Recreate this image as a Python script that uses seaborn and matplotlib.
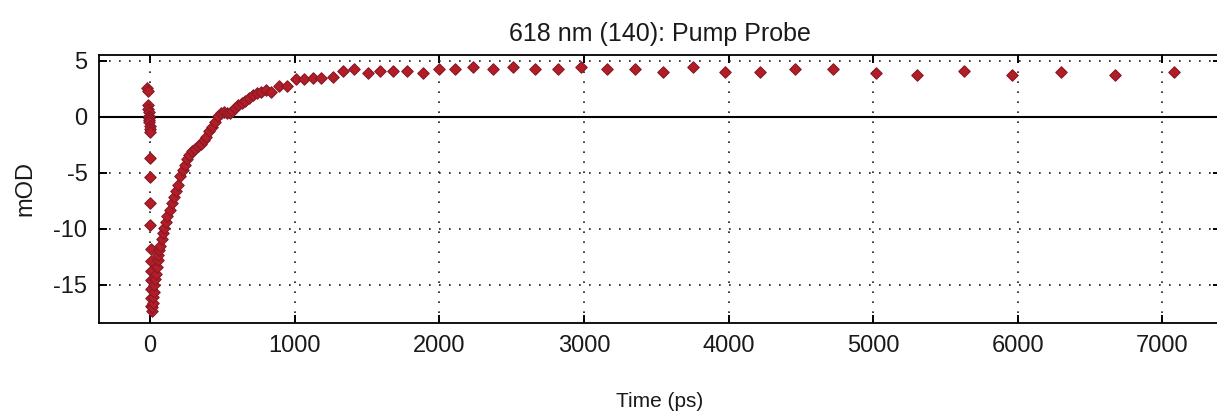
import matplotlib
matplotlib.use("Agg")
import matplotlib.pyplot as plt
import seaborn as sns
import pandas as pd

# ---- data ----
time_ps = [
    -20, -17, -14, -12, -10, -8, -6, -5, -4, -3, -2, -1,
    0, 1, 2, 3, 4, 5, 6, 7, 8, 9, 10,
    12, 15, 18, 21, 25, 30, 35, 40, 46, 52, 58, 64, 70, 80, 90, 100,
    110, 120, 135, 150, 165, 180, 195, 210, 225, 240, 255, 270, 290,
    310, 330, 350, 370, 390, 410, 430, 450, 470, 490, 510, 530, 550,
    570, 590, 610, 635, 660, 685, 710, 740, 770, 800, 840, 890, 945,
    1010, 1065, 1126, 1181, 1264, 1333, 1412, 1504, 1587, 1677, 1776,
    1891, 1998, 2111, 2233, 2371, 2510, 2664, 2819, 2980, 3160, 3352,
    3548, 3753, 3979, 4217, 4457, 4724, 5017, 5306, 5628, 5958, 6302,
    6673, 7077,
]
signal_mod = [
    2.6, 2.3, 1.0, 0.7, 0.4, 0.1, -0.1, -0.3, -0.5, -0.8, -1.1, -1.4,
    -3.7, -5.4, -7.7, -9.7, -11.8, -12.9, -13.8, -14.6, -15.4, -16.2, -16.9,
    -17.3, -17.0, -16.6, -16.1, -15.6, -15.0, -14.5, -14.0, -13.4, -12.8,
    -12.3, -11.9, -11.5, -10.9, -10.4, -9.9,
    -9.4, -8.9, -8.3, -7.7, -7.2, -6.6, -6.1, -5.3, -4.8, -4.3, -3.8,
    -3.4, -3.1,
    -2.9, -2.6, -2.4, -2.1, -1.8, -1.3, -0.9, -0.5, 0.1, 0.3, 0.4, 0.3,
    0.3, 0.5, 0.8, 1.0, 1.2, 1.4, 1.7, 1.9, 2.1, 2.2, 2.4, 2.2, 2.7, 2.7,
    3.35, 3.35, 3.48, 3.48, 3.57, 4.07, 4.25, 3.92, 4.07, 4.07, 4.07,
    3.92, 4.25, 4.25, 4.46, 4.25, 4.46, 4.25, 4.22, 4.46, 4.22, 4.22,
    4.01, 4.46, 4.01, 4.01, 4.22, 4.22, 3.87, 3.72, 4.10, 3.76, 3.94,
    3.72, 3.94,
]
x_ticks = [0, 1000, 2000, 3000, 4000, 5000, 6000, 7000]
y_ticks = [-15, -10, -5, 0, 5]
title_text = "618 nm (140): Pump Probe"
x_label = "Time (ps)"
y_label = "mOD"

df = pd.DataFrame({"time": time_ps, "signal": signal_mod})

sns.set_theme(style="white")
plt.rcParams["font.family"] = ["Liberation Sans", "DejaVu Sans"]
plt.rcParams["axes.unicode_minus"] = False

W, H = 1217, 416
fig = plt.figure(figsize=(W / 100, H / 100), dpi=100)
left, right, top, bottom = 98.5, 1221, 55, 323
ax = fig.add_axes([left / W, (H - bottom) / H, (right - left) / W, (bottom - top) / H])

ax.grid(True, linestyle=(0, (1, 5)), color="#1a1a1a", linewidth=1.2)
ax.axhline(0, color="black", linewidth=1.5, zorder=1.5)

sns.scatterplot(data=df, x="time", y="signal", ax=ax, marker="D", s=34,
                color="#b41c26", edgecolor="#851a28", linewidth=0.8,
                zorder=3, legend=False)

ax.set_xlim(-356, 7405)
ax.set_ylim(-18.4, 5.5)
ax.set_xticks(x_ticks)
ax.set_yticks(y_ticks)
ax.tick_params(direction="in", bottom=True, left=True, top=True, right=True,
               length=6, width=1.4, color="black", labelcolor="#1a1a1a",
               labelsize=17, pad=9)
ax.tick_params(axis="y", pad=8)
for sp in ax.spines.values():
    sp.set_color("black")
    sp.set_linewidth(1.3)
    sp.set_visible(True)

ax.set_title(title_text, fontsize=18, pad=10, color="#1a1a1a")
ax.set_xlabel(x_label, fontsize=15, labelpad=25, color="#1a1a1a")
ax.set_ylabel(y_label, fontsize=17, labelpad=12, color="#1a1a1a")

fig.savefig("out.png", dpi=100, facecolor="white")
